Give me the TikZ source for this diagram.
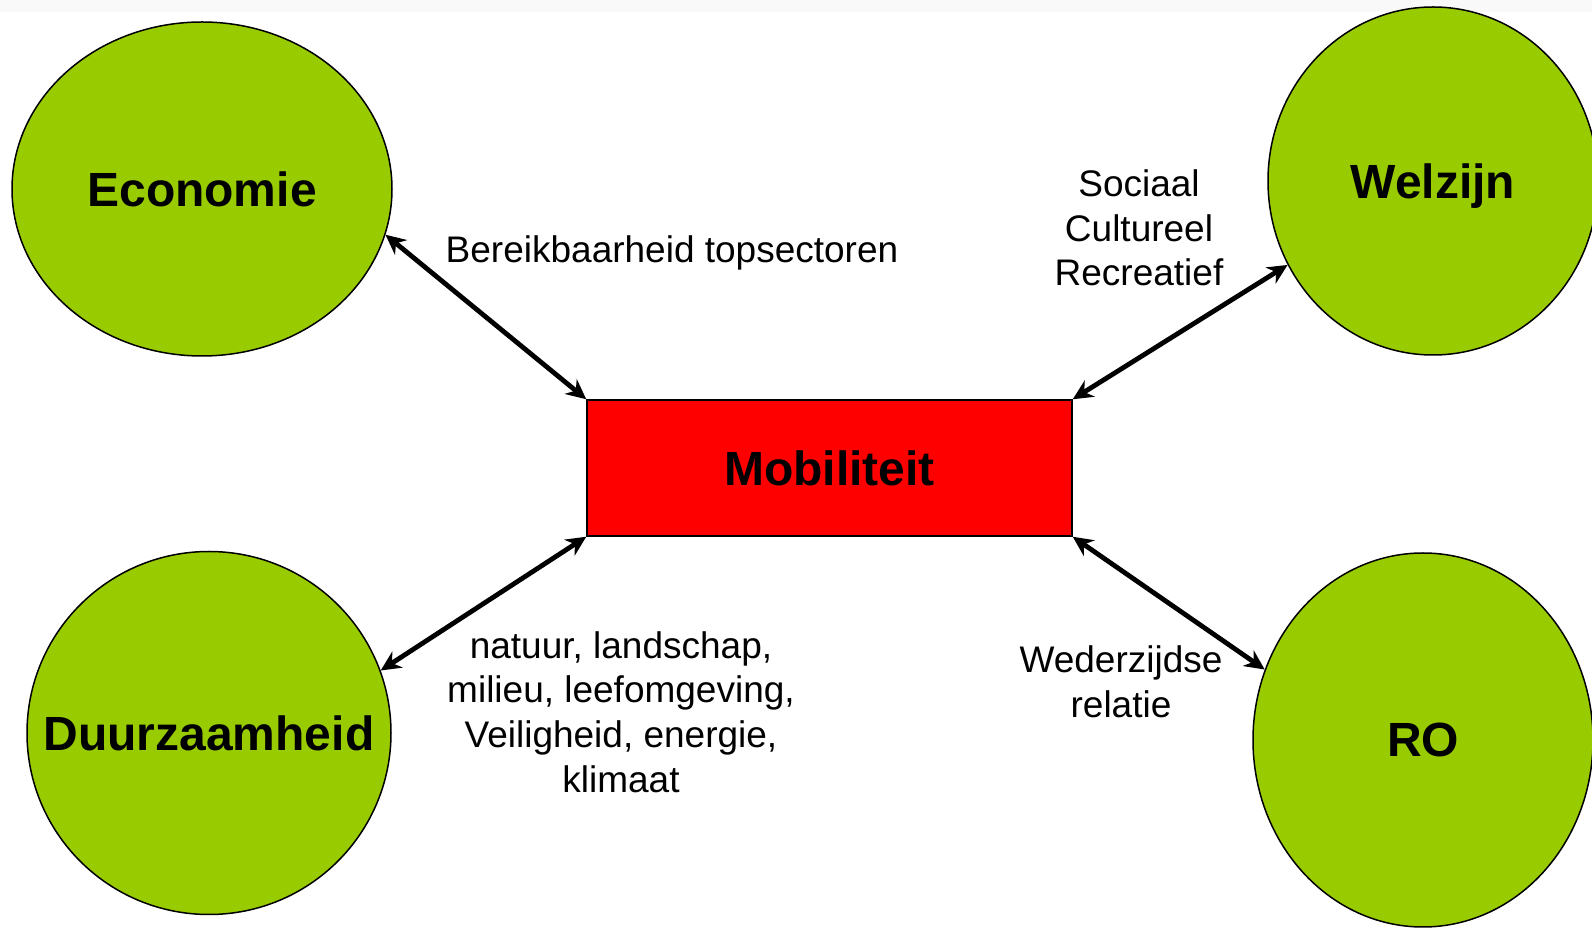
\documentclass[tikz,border=0pt]{standalone}
\usepackage{fontspec}
\setmainfont{Liberation Sans}
\usetikzlibrary{shapes.geometric,arrows.meta}
\definecolor{leaf}{RGB}{153,204,0}

\begin{document}
\begin{tikzpicture}[x=0.5pt,y=-0.5pt,
    theme/.style={ellipse,draw,line width=0.75pt,fill=leaf,inner xsep=-30pt,inner ysep=0pt,
        text depth=0pt,font=\fontsize{24}{28}\selectfont\bfseries},
    hub/.style={rectangle,draw,line width=0.75pt,fill=red,inner sep=0pt,
        minimum width=242.5pt,minimum height=68pt,
        font=\fontsize{24}{28}\selectfont\bfseries},
    link/.style={line width=2.4pt,{Stealth[length=10pt,width=9.5pt]}-{Stealth[length=10pt,width=9.5pt]}},
    note/.style={align=center,inner sep=0pt,font=\fontsize{18.5}{22.3}\selectfont}]

            \useasboundingbox (0,0) rectangle (1592,929);
            \clip (0,0) rectangle (1592,929);
            \fill[gray!5] (0,0) rectangle (1592,12);

            \node[theme,minimum width=190pt,minimum height=167pt] (eco) at (202,189) {Economie};
            \node[theme,minimum width=165pt,minimum height=174pt] (wel) at (1433,181) {Welzijn};
            \node[theme,minimum width=182pt,minimum height=181.5pt] (duur) at (209,733) {Duurzaamheid};
            \node[theme,minimum width=170pt,minimum height=187pt] (ro) at (1423,740) {RO};

            \node[hub] (mob) at (829.5,468) {Mobiliteit};

            \draw[link] (eco.-14) -- (mob.north west);
            \draw[link] (mob.north east) -- (wel.210);
            \draw[link] (duur.20) -- (mob.south west);
            \draw[link] (mob.south east) -- (ro.156);

            \node[note] (bereik) at (672,253) {Bereikbaarheid topsectoren};
            \node[note] (sociaal) at (1139,228) {Sociaal\\Cultureel\\Recreatief};
            \node[note] (natuur) at (621,712) {natuur, landschap,\\milieu, leefomgeving,\\Veiligheid, energie,\\klimaat};
            \node[note] (relatie) at (1121,682) {Wederzijdse\\relatie};

\end{tikzpicture}
\end{document}
